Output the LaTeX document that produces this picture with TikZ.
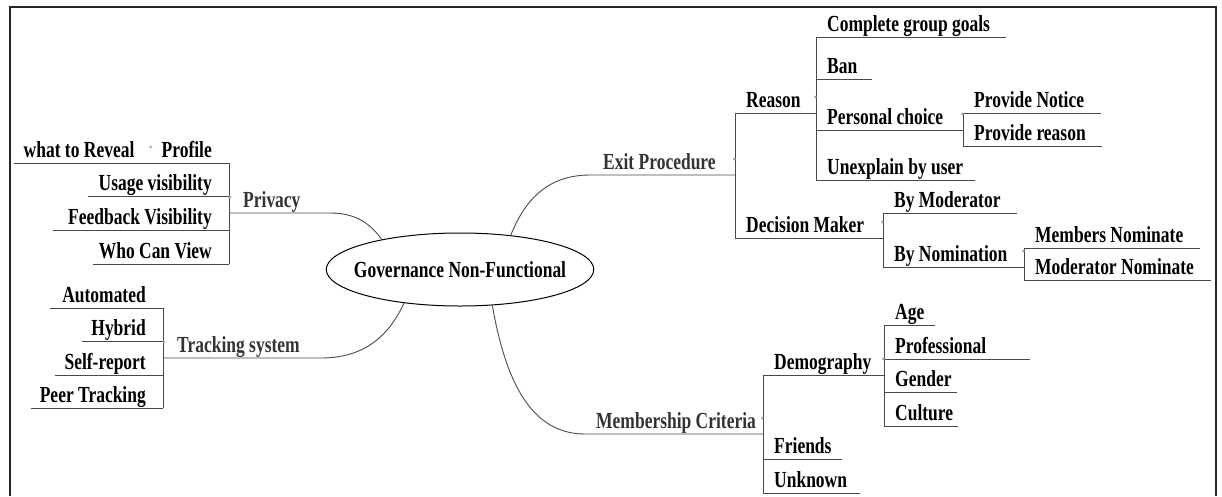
\documentclass[tikz,border=0pt]{standalone}
\usepackage{fontspec}
\setmainfont{Liberation Serif}[FakeStretch=0.76,WordSpace=1.0]
\usetikzlibrary{shapes.geometric}
\definecolor{linkc}{HTML}{4A4A4A}
\definecolor{branchc}{HTML}{333333}
\definecolor{dotc}{HTML}{A8A8A8}
\begin{document}
\begin{tikzpicture}[x=1pt,y=-1pt,
  lnk/.style={draw=linkc,line width=0.9pt},
  txt/.style={inner sep=0pt,text depth=5.5pt,font=\fontsize{23pt}{26pt}\selectfont\bfseries},
  % labels reading to the right: text starts a little after the bar
  rleaf/.style={txt,anchor=south west,
    execute at begin node={\spaceskip=0pt\xspaceskip=0pt\relax\hspace*{#1}}},
  rleaf/.default=11pt,
  % labels reading to the left: text pushed against the bar
  lleaf/.style={txt,anchor=south east,
    execute at begin node={\spaceskip=0pt\xspaceskip=0pt\relax\hspace*{0pt plus 1filll}},
    execute at end node={\hspace*{#1}}},
  lleaf/.default=17pt,
  branch/.style={rleaf=#1,text=branchc},
  hub/.style={draw=black,line width=1pt,ellipse,minimum width=266pt,minimum height=73pt,
    inner xsep=-11.5pt,inner ysep=0pt,font=\fontsize{23pt}{26pt}\selectfont\bfseries},
  knot/.style={fill=dotc}
]
\useasboundingbox (0,0) rectangle (1222,496);
% outer frame, open at the lower edge
\draw[line width=2pt,black!85] (9.5,496) -- (9.5,7) -- (1215.5,7) -- (1215.5,496);

% central topic
\node[hub] (gnf) at (460,269.5) {Governance Non-Functional};

% ---------- Privacy ----------
\node[branch=14pt,text width=101pt] (pv) at (229,213) {Privacy};
\node[lleaf,text width=79pt]  (pf)  at (229,163) {Profile};
\node[lleaf=15pt,text width=135pt] (wtr) at (pf.south west) {what to Reveal};
\node[lleaf,text width=141pt] (uv)  at (229,196) {Usage visibility};
\node[lleaf,text width=176pt] (fv)  at (229,230) {Feedback Visibility};
\node[lleaf,text width=136pt] (wcv) at (229,264) {Who Can View};

% ---------- Tracking system ----------
\node[branch=14pt,text width=157pt] (tr) at (163,358) {Tracking system};
\node[lleaf,text width=113pt] (au) at (163,308) {Automated};
\node[lleaf,text width=81pt]  (hy) at (163,341) {Hybrid};
\node[lleaf,text width=108pt] (sr) at (163,375) {Self-report};
\node[lleaf,text width=132pt] (pt) at (163,408) {Peer Tracking};

% ---------- Exit Procedure ----------
\node[branch=13pt,text width=145pt] (ex) at (590,175) {Exit Procedure};
\node[rleaf,text width=81pt]  (rs)  at (735,113) {Reason};
\node[rleaf,text width=148pt] (dm)  at (735,238) {Decision Maker};
\node[rleaf,text width=190pt] (cg)  at (816,37)  {Complete group goals};
\node[rleaf,text width=56pt]  (bn)  at (816,79)  {Ban};
\node[rleaf,text width=147pt] (pc)  at (816,130) {Personal choice};
\node[rleaf,text width=159pt] (ub)  at (816,180) {Unexplain by user};
\node[rleaf,text width=138pt] (pn)  at (963,113) {Provide Notice};
\node[rleaf,text width=139pt] (pr)  at (963,146) {Provide reason};
\node[rleaf,text width=134pt] (bmo) at (883,213) {By Moderator};
\node[rleaf,text width=141pt] (bno) at (883,267) {By Nomination};
\node[rleaf,text width=176pt] (mn)  at (1024,248) {Members Nominate};
\node[rleaf,text width=187pt] (mon) at (1024,280) {Moderator Nominate};

% ---------- Membership Criteria ----------
\node[branch=11pt,text width=178pt] (mc) at (585,434) {Membership Criteria};
\node[rleaf,text width=121pt] (dg)  at (763,375) {Demography};
\node[rleaf,text width=79pt]  (fr)  at (763,459) {Friends};
\node[rleaf,text width=97pt]  (un)  at (763,493) {Unknown};
\node[rleaf,text width=51pt]  (ag)  at (884,325) {Age};
\node[rleaf,text width=146pt] (pro) at (884,359) {Professional};
\node[rleaf,text width=73pt]  (ge)  at (884,392) {Gender};
\node[rleaf,text width=74pt]  (cu)  at (884,426) {Culture};

% underlines of every label
\foreach \n in {pf,wtr,uv,fv,wcv,au,hy,sr,pt,rs,dm,cg,bn,pc,ub,pn,pr,bmo,bno,mn,mon,
                dg,fr,un,ag,pro,ge,cu}
  \draw[lnk] (\n.south west) -- (\n.south east);

% main branches from the central topic
\draw[lnk] (pv.south west) -- (pv.south east) .. controls +(30,0) and +(-8,-11) .. (gnf.159);
\draw[lnk] (tr.south west) -- (tr.south east) .. controls +(45,0) and +(-15,32) .. (gnf.211);
\draw[lnk] (gnf.34) .. controls +(15,-38) and +(-40,0) .. (ex.south west) -- (ex.south east);
\draw[lnk] (gnf.312) .. controls +(13,74) and +(-55,0) .. (mc.south west) -- (mc.south east);

% vertical bars gathering the children
\draw[lnk] (pf.south east) -- (wcv.south east);
\draw[lnk] (au.south east) -- (pt.south east);
\draw[lnk] (rs.south west) -- (dm.south west);
\draw[lnk] (cg.south west) -- (ub.south west);
\draw[lnk] (pn.south west) -- (pr.south west);
\draw[lnk] (bmo.south west) -- (bno.south west);
\draw[lnk] (mn.south west) -- (mon.south west);
\draw[lnk] (dg.south west) -- (un.south west);
\draw[lnk] (ag.south west) -- (cu.south west);

% small knots beside the parent labels
\foreach \n in {ex,rs,pc,dm,bno,mc,dg}
  \fill[knot] (\n.south east) ++(-1,-16) circle (1.5pt);
\foreach \n in {pv,tr,pf}
  \fill[knot] (\n.south west) ++(1,-16) circle (1.5pt);
\end{tikzpicture}
\end{document}
